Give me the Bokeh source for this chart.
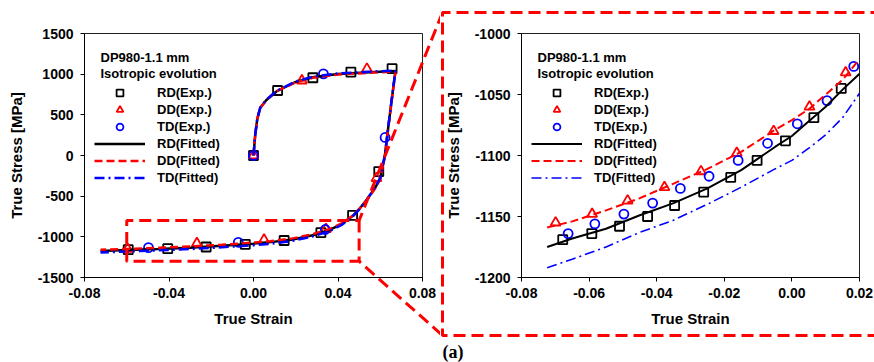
from bokeh.plotting import figure
from bokeh.models import Legend, LegendItem, Label, FixedTicker, Range1d
from bokeh.layouts import row
from bokeh.embed import file_html
from bokeh.resources import INLINE
from bokeh.core.properties import value

FONT = "Liberation Sans"
RED = "#ff0000"
BLUE = "#0000ff"
BLACK = "#000000"

# ---------------- left panel: full cycle ----------------
L_xticks = [-0.08, -0.04, 0.0, 0.04, 0.08]
L_xlabels = ["-0.08", "-0.04", "0.00", "0.04", "0.08"]
L_yticks = [-1500, -1000, -500, 0, 500, 1000, 1500]
L_ylabels = ["-1500", "-1000", "-500", "0", "500", "1000", "1500"]

rd_exp_L_x = [0.0, 0.0114, 0.0281, 0.0461, 0.0656, 0.0593, 0.0469, 0.0319, 0.0145, -0.0039, -0.0224, -0.0406, -0.0593]
rd_exp_L_y = [0, 799, 956, 1026, 1067, -198, -735, -948, -1045, -1092, -1125, -1146, -1158]
dd_exp_L_x = [0.0, 0.0229, 0.0537, 0.0582, 0.0343, 0.0050, -0.0268, -0.0596]
dd_exp_L_y = [0, 921, 1065, -280, -905, -1036, -1080, -1150]
td_exp_L_x = [0.0, 0.0331, 0.0623, 0.0340, -0.0072, -0.0497]
td_exp_L_y = [0, 1004, 222, -910, -1067, -1133]

fit_L_x = [0.0, 0.0008, 0.0018, 0.0032, 0.006, 0.011, 0.02, 0.028, 0.04, 0.055, 0.0672,
           0.0655, 0.0638, 0.0622, 0.0600, 0.0575, 0.0537, 0.0500, 0.0469, 0.042, 0.036,
           0.028, 0.018, 0.008, 0.0, -0.015, -0.03, -0.045, -0.06, -0.0724]
rd_fit_L_y = [0, 250, 450, 585, 680, 790, 905, 962, 1002, 1025, 1040,
              700, 350, 0, -280, -400, -540, -660, -745, -840, -915,
              -980, -1035, -1065, -1084, -1111, -1133, -1150, -1163, -1175]
dd_fit_L_y = [0, 250, 452, 588, 682, 792, 900, 955, 995, 1018, 1032,
              690, 340, -10, -290, -410, -545, -660, -742, -832, -905,
              -968, -1022, -1053, -1071, -1097, -1118, -1135, -1149, -1159]
td_fit_L_y = [0, 252, 455, 590, 684, 795, 910, 968, 1008, 1030, 1045,
              705, 355, 5, -275, -395, -540, -665, -752, -850, -928,
              -995, -1052, -1085, -1104, -1128, -1150, -1166, -1180, -1192]

# ---------------- right panel: zoom of reverse loading ----------------
R_xticks = [-0.08, -0.06, -0.04, -0.02, 0.0, 0.02]
R_xlabels = ["-0.08", "-0.06", "-0.04", "-0.02", "0.00", "0.02"]
R_yticks = [-1200, -1150, -1100, -1050, -1000]
R_ylabels = ["-1200", "-1150", "-1100", "-1050", "-1000"]

rd_exp_R_x = [-0.0678, -0.0592, -0.0510, -0.0427, -0.0347, -0.0261, -0.0181, -0.0103, -0.0019, 0.0065, 0.0146]
rd_exp_R_y = [-1169, -1164, -1158, -1150, -1141, -1130, -1118, -1104, -1088, -1069, -1045]
dd_exp_R_x = [-0.0699, -0.0591, -0.0486, -0.0377, -0.0269, -0.0163, -0.0054, 0.0052, 0.0159]
dd_exp_R_y = [-1155, -1148, -1137, -1126, -1113, -1098, -1080, -1060, -1032]
td_exp_R_x = [-0.0662, -0.0583, -0.0497, -0.0412, -0.0330, -0.0245, -0.0159, -0.0072, 0.0016, 0.0104, 0.0183]
td_exp_R_y = [-1164, -1156, -1148, -1139, -1127, -1117, -1104, -1090, -1074, -1055, -1027]

fit_R_x = [-0.0724, -0.065, -0.055, -0.045, -0.035, -0.025, -0.015, -0.005, 0.0, 0.005, 0.010, 0.015, 0.020]
rd_fit_R_y = [-1175, -1168, -1160, -1149, -1139, -1127, -1112, -1093, -1084, -1072, -1060, -1046, -1033]
dd_fit_R_y = [-1159, -1154, -1145, -1135, -1123, -1111, -1097, -1079, -1071, -1062, -1050, -1038, -1021]
td_fit_R_y = [-1192, -1185, -1175, -1163, -1153, -1140, -1126, -1111, -1104, -1094, -1083, -1069, -1049]

legend_labels = ["RD(Exp.)", "DD(Exp.)", "TD(Exp.)", "RD(Fitted)", "DD(Fitted)", "TD(Fitted)"]
title_lines = ["DP980-1.1 mm", "Isotropic evolution"]
zoom_box = dict(left=-0.06, right=0.05, top=-800, bottom=-1300)
panel_tag = "(a)"

# ---------------- layout (page pixels) ----------------
H = 362
TOP, BOTTOM = 33, 277          # frame top / bottom on the page
L_CANVAS = (0, 440)
R_CANVAS = (440, 874)
L_FRAME = (84, 422)
R_FRAME = (521, 859)
L_XR, L_YR = (-0.08, 0.08), (-1500, 1500)
R_XR, R_YR = (-0.08, 0.02), (-1200, -1000)
DASH = "12 6"


def px2data(px, py, frame, xr, yr):
    x = xr[0] + (px - frame[0]) / (frame[1] - frame[0]) * (xr[1] - xr[0])
    y = yr[1] - (py - TOP) / (BOTTOM - TOP) * (yr[1] - yr[0])
    return x, y


def make_fig(canvas, frame, xr, yr, xticks, xlabels, yticks, ylabels):
    p = figure(width=canvas[1] - canvas[0], height=H,
               x_range=Range1d(*xr), y_range=Range1d(*yr),
               output_backend="svg", toolbar_location=None,
               min_border_left=frame[0] - canvas[0], min_border_right=canvas[1] - frame[1],
               min_border_top=TOP, min_border_bottom=H - BOTTOM)
    p.grid.visible = False
    p.outline_line_color = "#222222"
    p.outline_line_width = 1
    p.background_fill_color = "white"
    p.border_fill_color = "white"
    for ax, ticks, labels in ((p.xaxis, xticks, xlabels), (p.yaxis, yticks, ylabels)):
        ax.ticker = FixedTicker(ticks=ticks)
        ax.major_label_overrides = {t: l for t, l in zip(ticks, labels)}
        ax.minor_tick_line_color = None
        ax.major_tick_out = 4
        ax.major_tick_in = 0
        ax.axis_line_color = BLACK
        ax.major_tick_line_color = BLACK
        ax.major_label_text_font = FONT
        ax.major_label_text_font_style = "bold"
        ax.major_label_text_font_size = "14px"
        ax.major_label_text_color = BLACK
        ax.axis_label_text_font = FONT
        ax.axis_label_text_font_style = "bold"
        ax.axis_label_text_font_size = "15px"
        ax.axis_label_text_color = BLACK
    p.xaxis.axis_label = "True Strain"
    p.yaxis.axis_label = "True Stress [MPa]"
    p.xaxis.major_label_standoff = 6
    p.yaxis.major_label_standoff = 7
    p.xaxis.axis_label_standoff = 9
    p.yaxis.axis_label_standoff = 10
    return p


def add_series(p, exp, fits, lw, dashes):
    rs = []
    (rx, ry), (dx, dy), (tx, ty) = exp
    rs.append(p.scatter(rx, ry, marker="square", size=9, fill_alpha=0, line_color=BLACK, line_width=1.8))
    rs.append(p.scatter(dx, dy, marker="triangle", size=10, fill_alpha=0, line_color=RED, line_width=1.8))
    rs.append(p.scatter(tx, ty, marker="circle", size=9, fill_alpha=0, line_color=BLUE, line_width=1.8))
    fx, (fr, fd, ft) = fits
    rs.append(p.line(fx, fr, line_color=BLACK, line_width=lw[0]))
    rs.append(p.line(fx, fd, line_color=RED, line_width=lw[1], line_dash=dashes[0]))
    rs.append(p.line(fx, ft, line_color=BLUE, line_width=lw[2], line_dash=dashes[1]))
    return rs


def add_legend(p, rs, frame, xr, yr):
    items = [LegendItem(label=l, renderers=[r]) for l, r in zip(legend_labels, rs)]
    leg = Legend(items=items, location=(10, 91), orientation="vertical",
                 glyph_width=51, glyph_height=17, label_height=17, label_standoff=12,
                 spacing=0, padding=0, margin=0,
                 border_line_alpha=0, background_fill_alpha=0,
                 label_text_font=FONT, label_text_font_style="bold",
                 label_text_font_size="13px", label_text_color=BLACK)
    p.add_layout(leg)
    for i, t in enumerate(title_lines):
        x, y = px2data(frame[0] + 16, 57 + 15.5 * i, frame, xr, yr)
        p.add_layout(Label(x=x, y=y, text=t, text_font=FONT, text_font_style="bold",
                           text_font_size="13px", text_baseline="middle", text_color=BLACK))


# ---- left figure
pL = make_fig(L_CANVAS, L_FRAME, L_XR, L_YR, L_xticks, L_xlabels, L_yticks, L_ylabels)
rsL = add_series(pL, ((rd_exp_L_x, rd_exp_L_y), (dd_exp_L_x, dd_exp_L_y), (td_exp_L_x, td_exp_L_y)),
                 (fit_L_x, (rd_fit_L_y, dd_fit_L_y, td_fit_L_y)), (2.5, 2.5, 2.5), ("8 4", "10 4 2 4"))
add_legend(pL, rsL, L_FRAME, L_XR, L_YR)

# zoom box with its two connectors, drawn above the frame clip
e1 = px2data(442, 12, L_FRAME, L_XR, L_YR)
e2 = px2data(442, 335, L_FRAME, L_XR, L_YR)
path_x = [e1[0], zoom_box["right"], zoom_box["left"], zoom_box["left"], zoom_box["right"], e2[0]]
path_y = [e1[1], zoom_box["top"], zoom_box["top"], zoom_box["bottom"], zoom_box["bottom"], e2[1]]
pL.line(path_x, path_y, line_color=RED, line_width=3, line_dash=DASH, level="overlay")
pL.line([zoom_box["right"], zoom_box["right"]], [zoom_box["top"], zoom_box["bottom"]],
        line_color=RED, line_width=3, line_dash=DASH, level="overlay")

# ---- right figure
pR = make_fig(R_CANVAS, R_FRAME, R_XR, R_YR, R_xticks, R_xlabels, R_yticks, R_ylabels)
rsR = add_series(pR, ((rd_exp_R_x, rd_exp_R_y), (dd_exp_R_x, dd_exp_R_y), (td_exp_R_x, td_exp_R_y)),
                 (fit_R_x, (rd_fit_R_y, dd_fit_R_y, td_fit_R_y)), (2, 2, 1.6), ("8 4", "10 4 2 4"))
add_legend(pR, rsR, R_FRAME, R_XR, R_YR)

big_x = [px2data(px, 0, R_FRAME, R_XR, R_YR)[0] for px in (900, 442, 442, 900)]
big_y = [px2data(0, py, R_FRAME, R_XR, R_YR)[1] for py in (12, 12, 335, 335)]
pR.line(big_x, big_y, line_color=RED, line_width=3, line_dash=DASH, level="overlay")

tx, ty = px2data(442, 351, R_FRAME, R_XR, R_YR)
pR.text(x=[tx], y=[ty], text=[panel_tag], text_font=value("Liberation Serif"),
        text_font_style="bold", text_font_size="18px", text_baseline="middle",
        text_color=BLACK, level="overlay")

layout = row(pL, pR, spacing=0)
open("out.html", "w").write(file_html(layout, INLINE))
